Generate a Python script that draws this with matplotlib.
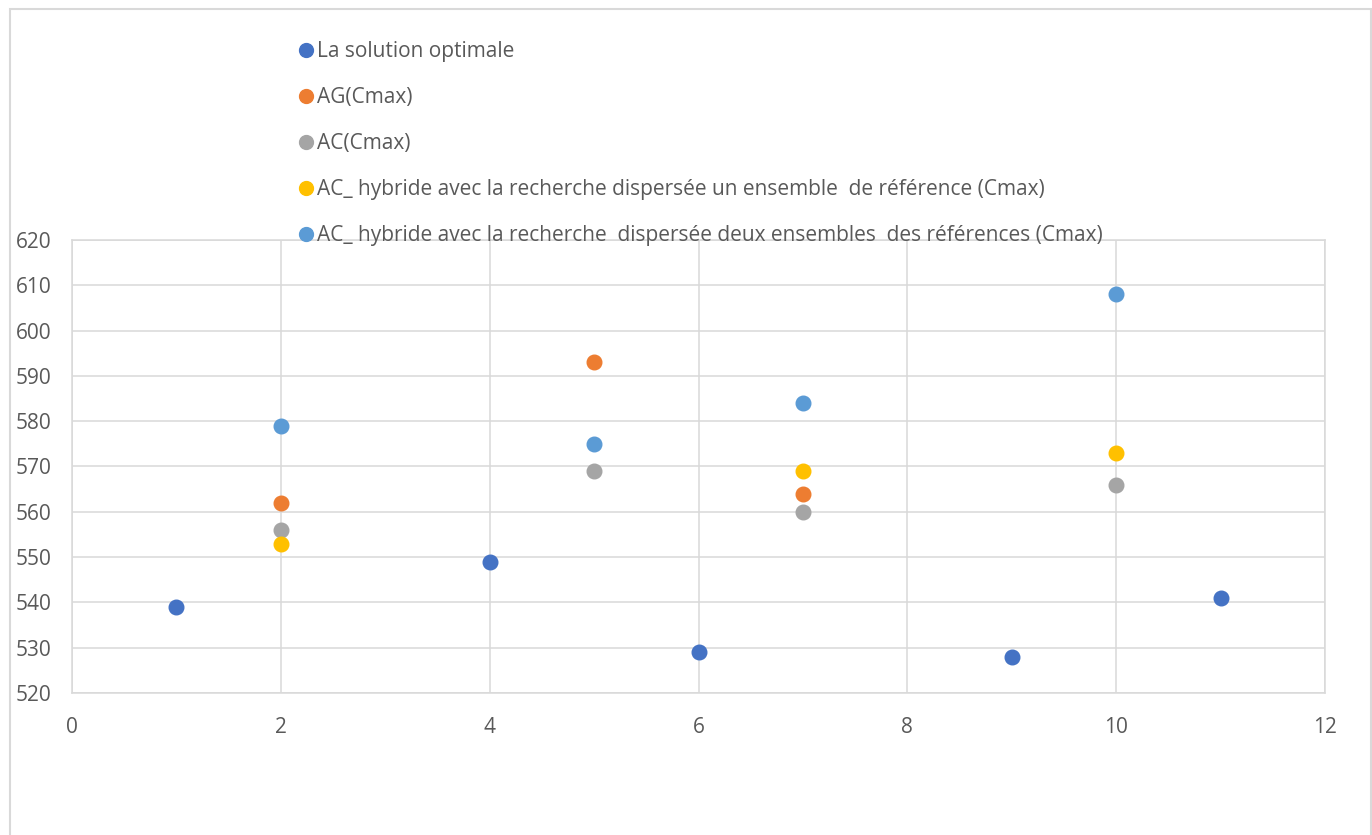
import matplotlib.pyplot as plt
from matplotlib.patches import Rectangle

plt.rcParams['font.family'] = ['Open Sans', 'DejaVu Sans']

# Cmax results per instance
x_opt = [1, 4, 6, 9, 11]
y_opt = [539, 549, 529, 528, 541]

x_ag = [2, 5, 7]
y_ag = [562, 593, 564]

x_ac = [2, 5, 7, 10]
y_ac = [556, 569, 560, 566]

x_hyb1 = [2, 7, 10]
y_hyb1 = [553, 569, 573]

x_hyb2 = [2, 5, 7, 10]
y_hyb2 = [579, 575, 584, 608]

labels = [
    "La solution optimale",
    "AG(Cmax)",
    "AC(Cmax)",
    "AC_ hybride avec la recherche dispersée un ensemble  de référence (Cmax)",
    "AC_ hybride avec la recherche  dispersée deux ensembles  des références (Cmax)",
]
colors = ["#4472C4", "#ED7D31", "#A5A5A5", "#FFC000", "#5B9BD5"]
series = [(x_opt, y_opt), (x_ag, y_ag), (x_ac, y_ac),
          (x_hyb1, y_hyb1), (x_hyb2, y_hyb2)]

grid_col = "#D9D9D9"
text_col = "#595959"

fig = plt.figure(figsize=(13.72, 8.35), dpi=100)
ax = fig.add_axes([72 / 1372, 142 / 835, 1253 / 1372, 453 / 835])

handles = []
for (xs, ys), c, lab in zip(series, colors, labels):
    h, = ax.plot(xs, ys, linestyle="none", marker="o", markersize=10.5,
                 markerfacecolor=c, markeredgecolor=c, label=lab, zorder=3)
    handles.append(h)

ax.set_xlim(0, 12)
ax.set_ylim(520, 620)
ax.set_xticks(range(0, 13, 2))
ax.set_yticks(range(520, 621, 10))
ax.grid(True, color=grid_col, linewidth=1.1)
ax.set_axisbelow(True)
for s in ax.spines.values():
    s.set_color(grid_col)
    s.set_linewidth(1.1)
ax.tick_params(length=0, labelsize=15, colors=text_col)
ax.tick_params(axis="x", pad=17)
ax.tick_params(axis="y", pad=15)

leg = fig.legend(handles=handles, loc="upper left",
                 bbox_to_anchor=(292 / 1372, 1 - 33 / 835),
                 frameon=False, fontsize=15, labelspacing=1.2,
                 handlelength=0.5, handletextpad=0.3, borderaxespad=0,
                 markerscale=0.95)
for t in leg.get_texts():
    t.set_color(text_col)

# outer chart frame
fig.patches.append(Rectangle((10 / 1372, -0.01), 1361 / 1372, 1 - 9 / 835 + 0.01,
                             transform=fig.transFigure, fill=False,
                             edgecolor=grid_col, linewidth=1.5))

fig.savefig("out.png", dpi=100)
